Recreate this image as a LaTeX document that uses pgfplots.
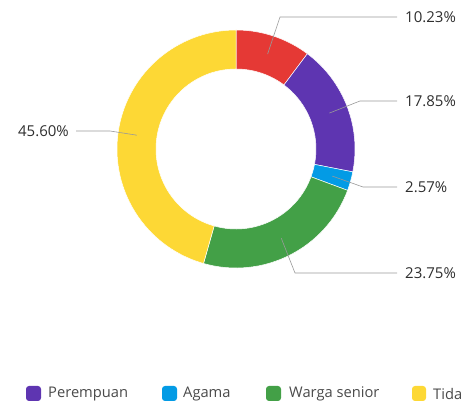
\documentclass[border=0pt]{standalone}
\usepackage{pgfplots}
\pgfplotsset{compat=1.18}
\usepackage{pgfplotstable}
\usepackage{fontspec}
\setmainfont{Open Sans}

\definecolor{slice0}{HTML}{E53935}
\definecolor{slice1}{HTML}{5E35B1}
\definecolor{slice2}{HTML}{039BE5}
\definecolor{slice3}{HTML}{43A047}
\definecolor{slice4}{HTML}{FDD835}
\definecolor{labtext}{HTML}{2E2E2E}
\definecolor{legtext}{HTML}{4A4A4A}
\definecolor{leader}{HTML}{999999}

% value, knee x, knee y (pixel rows from top), end x, label x, side (0 right, 1 left)
\pgfplotstableread{
value kx ky ex lx side
10.23 280 17 397 405 0
17.85 360 101 397 405 0
2.57 363 187 397 405 0
23.75 295 273 397 405 0
45.60 110 131 76 69 1
}\slicetab

\begin{document}
\begin{tikzpicture}
\begin{axis}[
  name=ax,
  scale only axis, width=467pt, height=406pt,
  xmin=0, xmax=467, ymin=0, ymax=406,
  hide axis, clip=false,
]
\pgfplotsextra{%
  \gdef\cum{0}%
  \foreach \i in {0,...,4}{%
    \pgfplotstablegetelem{\i}{value}\of\slicetab
    \pgfmathsetmacro\v{\pgfplotsretval}%
    \pgfmathsetmacro\aA{90-3.6*\cum}%
    \pgfmathsetmacro\aB{90-3.6*(\cum+\v)}%
    \fill[slice\i, draw=white, line width=0.5pt]
      (axis cs:{236+119*cos(\aA)},{257+119*sin(\aA)})
      arc[start angle=\aA, end angle=\aB, radius=119pt]
      -- (axis cs:{236+80*cos(\aB)},{257+80*sin(\aB)})
      arc[start angle=\aB, end angle=\aA, radius=80pt] -- cycle;
    \pgfmathsetmacro\newcum{\cum+\v}%
    \xdef\cum{\newcum}%
  }%
}
\pgfplotsextra{%
  \gdef\cum{0}%
  \foreach \i in {0,...,4}{%
    \pgfplotstablegetelem{\i}{value}\of\slicetab
    \pgfmathsetmacro\v{\pgfplotsretval}%
    \pgfplotstablegetelem{\i}{kx}\of\slicetab \let\kx\pgfplotsretval
    \pgfplotstablegetelem{\i}{ky}\of\slicetab \let\ky\pgfplotsretval
    \pgfplotstablegetelem{\i}{ex}\of\slicetab \let\ex\pgfplotsretval
    \pgfplotstablegetelem{\i}{lx}\of\slicetab \let\lx\pgfplotsretval
    \pgfplotstablegetelem{\i}{side}\of\slicetab \let\side\pgfplotsretval
    \pgfmathsetmacro\aM{90-3.6*(\cum+\v/2)}%
    \draw[leader, line width=0.6pt]
      (axis cs:{236+100*cos(\aM)},{257+100*sin(\aM)})
      -- (axis cs:\kx,{406-\ky}) -- (axis cs:\ex,{406-\ky});
    \ifnum\side=0
      \node[anchor=west, inner sep=0pt, text=labtext, font=\fontsize{15}{18}\selectfont]
        at (axis cs:\lx,{406-\ky}) {\pgfmathprintnumber[fixed,fixed zerofill,precision=2,assume math mode=true]{\v}\%};
    \else
      \node[anchor=east, inner sep=0pt, text=labtext, font=\fontsize{15}{18}\selectfont]
        at (axis cs:\lx,{406-\ky}) {\pgfmathprintnumber[fixed,fixed zerofill,precision=2,assume math mode=true]{\v}\%};
    \fi
    \pgfmathsetmacro\newcum{\cum+\v}%
    \xdef\cum{\newcum}%
  }%
  % legend
  \fill[slice1, rounded corners=3pt] (axis cs:26,5) rectangle (axis cs:41,20);
  \node[anchor=west, inner sep=0pt, text=legtext, font=\fontsize{14.7}{17}\selectfont] at (axis cs:48,12) {Perempuan};
  \fill[slice2, rounded corners=3pt] (axis cs:162,5) rectangle (axis cs:177,20);
  \node[anchor=west, inner sep=0pt, text=legtext, font=\fontsize{14.7}{17}\selectfont] at (axis cs:183,12) {Agama};
  \fill[slice3, rounded corners=3pt] (axis cs:266,5) rectangle (axis cs:281,20);
  \node[anchor=west, inner sep=0pt, text=legtext, font=\fontsize{14.7}{17}\selectfont] at (axis cs:289,12) {Warga senior};
  \fill[slice4, rounded corners=3pt] (axis cs:412,5) rectangle (axis cs:426,20);
  \begin{scope}
    \clip (axis cs:0,0) rectangle (axis cs:461.5,406);
    \node[anchor=west, inner sep=0pt, text=legtext, font=\fontsize{14.7}{17}\selectfont] at (axis cs:433,12) {Tidak ada};
  \end{scope}
}
\end{axis}
\pgfresetboundingbox
\path (ax.south west) rectangle (ax.north east);
\end{tikzpicture}
\end{document}
